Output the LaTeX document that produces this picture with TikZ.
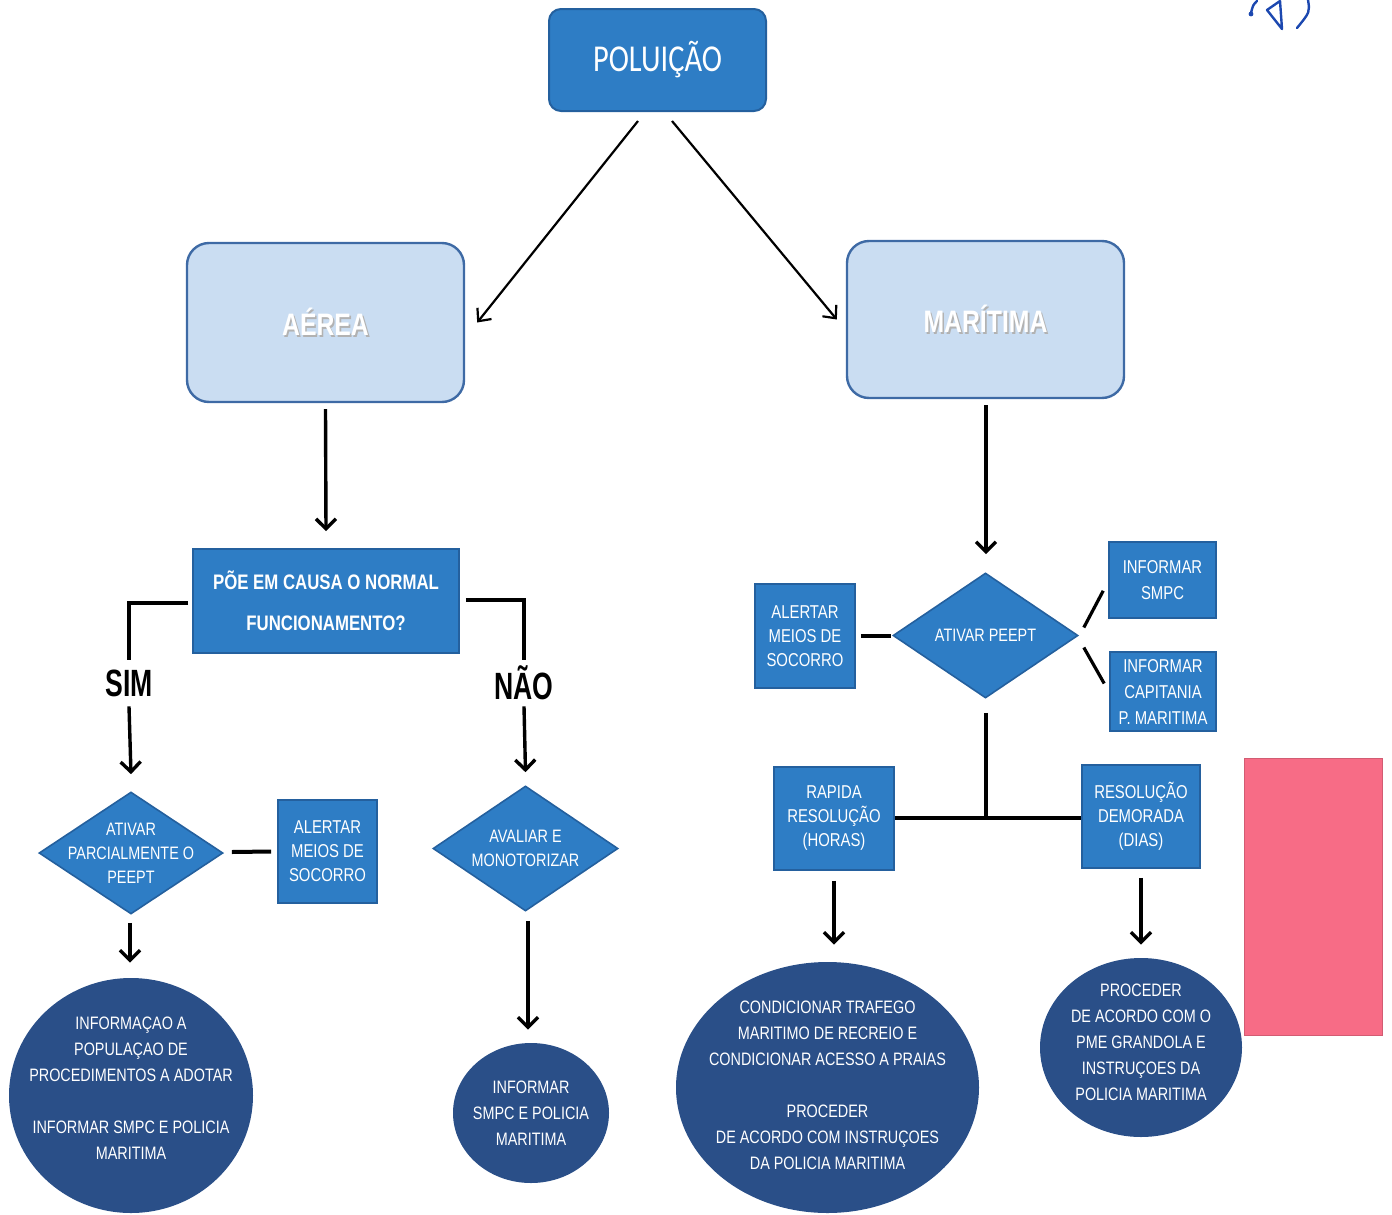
\documentclass[tikz,border=0pt]{standalone}
\usepackage{fontspec}
\setmainfont{Liberation Sans}
\newfontfamily\narrowfont[FakeStretch=0.8]{Liberation Sans}
\newfontfamily\slimfont[FakeStretch=0.7]{Liberation Sans}
\newfontfamily\titlefont[FakeStretch=0.8]{Carlito}
\usetikzlibrary{shapes.geometric,arrows.meta,calc}

\definecolor{midblue}{RGB}{46,125,197}
\definecolor{edgeblue}{RGB}{36,96,158}
\definecolor{paleblue}{RGB}{202,221,242}
\definecolor{paleedge}{RGB}{62,106,165}
\definecolor{navy}{RGB}{42,79,136}
\definecolor{rosepink}{RGB}{247,108,134}
\definecolor{inkblue}{RGB}{28,72,176}

% white lettering with a soft grey drop shadow
\newcommand\embossed[1]{\makebox[0pt][l]{\kern0.8pt\raisebox{-0.8pt}{\color{black!30}#1}}#1}

\begin{document}
\begin{tikzpicture}[x=0.5pt,y=-0.5pt,
  titlebox/.style={rectangle, rounded corners=6pt, fill=midblue, draw=edgeblue, line width=1pt,
    text=white, font=\titlefont\fontsize{19}{22}\selectfont},
  catbox/.style={rectangle, rounded corners=11pt, fill=paleblue, draw=paleedge, line width=1.2pt,
    text=white, font=\narrowfont\bfseries\fontsize{15.5}{18}\selectfont},
  qbox/.style={rectangle, fill=midblue, draw=edgeblue, line width=0.8pt, align=center,
    text=white, font=\narrowfont\bfseries\fontsize{10.5}{20.5}\selectfont},
  infobox/.style={rectangle, fill=midblue, draw=edgeblue, line width=0.8pt, align=center, inner sep=1pt,
    text=white, font=\narrowfont\fontsize{9.3}{12}\selectfont},
  decision/.style={diamond, fill=midblue, draw=edgeblue, line width=0.8pt, inner sep=0pt},
  outcome/.style={ellipse, fill=navy, draw=none, inner sep=0pt},
  intext/.style={align=center, text=white, font=\narrowfont\fontsize{9}{12}\selectfont},
  outtext/.style={align=center, text=white, font=\narrowfont\fontsize{9}{13}\selectfont},
  answer/.style={font=\slimfont\bfseries\fontsize{19}{22}\selectfont, inner sep=0pt, minimum height=23pt},
  conn/.style={line width=1.6pt},
  arr/.style={line width=1.7pt, -{Straight Barb[length=5pt,width=10pt]}},
  thinarr/.style={line width=1.1pt, -{Straight Barb[length=5pt,width=9pt]}}
]
\path[use as bounding box] (0,0) rectangle (1392,1215);

% handwritten mark in the corner
\begin{scope}[inkblue, line width=1.2pt, line cap=round, line join=round]
  \draw (1257,1) .. controls (1253,5) .. (1251,13);
  \fill (1251,14) circle (1.2pt);
  \draw (1280,1) -- (1267,10) -- (1282,29) -- (1280,1);
  \draw (1308,0) .. controls (1310,12) .. (1297,28);
\end{scope}

% top level
\node[titlebox, minimum width=108.5pt, minimum height=51pt] (pol) at (657.5,60) {POLUIÇÃO};

\node[catbox, minimum width=138.5pt, minimum height=79.5pt] (aer) at (325.5,322.5) {\embossed{AÉREA}};
\node[catbox, minimum width=138.5pt, minimum height=78.5pt] (mar) at (985.5,319.5) {\embossed{MARÍTIMA}};

\draw[thinarr] ($(pol.south)+(-19.5,9)$) -- ($(aer.east)+(12,0)$);
\draw[thinarr] ($(pol.south)+(14.5,9)$) -- ($(mar.west)+(-9,0)$);

% air branch
\node[qbox, minimum width=133pt, minimum height=52pt] (q) at (326,601)
  {PÕE EM CAUSA O NORMAL\\FUNCIONAMENTO?};
\draw[arr] ($(aer.south)+(0,6)$) -- ($(q.north)+(0,-17)$);

\node[answer] (sim) at (129,683) {SIM};
\node[answer] (nao) at (524,683) {NÃO};
\draw[conn] ($(q.west)+(-4,2)$) -| (sim.north);
\draw[conn] ($(q.east)+(6,-1)$) -| (nao.north);

\node[decision, minimum width=92pt, minimum height=61pt,
  label={[intext]center:ATIVAR\\PARCIALMENTE O\\PEEPT}] (dL) at (131,853) {};
\node[decision, minimum width=92.5pt, minimum height=62.5pt,
  label={[intext]center:AVALIAR E\\MONOTORIZAR}] (dM) at (525.5,848.5) {};
\draw[arr] (sim.south) -- ($(dL.north)+(0,-17)$);
\draw[arr] (nao.south) -- ($(dM.north)+(0,-13)$);

\node[infobox, minimum width=49.5pt, minimum height=51.5pt] (alL) at (327.5,851.5)
  {ALERTAR\\MEIOS DE\\SOCORRO};
\draw[line width=2pt] ($(dL.east)+(8,-1)$) -- ($(alL.west)+(-6,0)$);

\node[outcome, minimum width=122pt, minimum height=117.5pt,
  label={[outtext, yshift=3.5pt]center:INFORMAÇAO A\\POPULAÇAO DE\\PROCEDIMENTOS A ADOTAR\\[13pt]INFORMAR SMPC E POLICIA\\MARITIMA}]
  (cL) at (131,1095.5) {};
\draw[arr] ($(dL.south)+(-1,8)$) -- ($(cL.north)+(-1,-15)$);

\node[outcome, minimum width=78pt, minimum height=70pt,
  label={[outtext]center:INFORMAR\\SMPC E POLICIA\\MARITIMA}] (cM) at (531,1113) {};
\draw[arr] ($(dM.south)+(2.5,9)$) -- ($(cM.north)+(-3,-13)$);

% sea branch
\node[decision, minimum width=92.5pt, minimum height=62.5pt,
  label={[intext]center:ATIVAR PEEPT}] (dR) at (985.5,635.5) {};
\draw[arr] ($(mar.south)+(0.5,6)$) -- ($(dR.north)+(0.5,-18)$);

\node[infobox, minimum width=50pt, minimum height=52pt] (alR) at (805,636)
  {ALERTAR\\MEIOS DE\\SOCORRO};
\draw[line width=2pt] ($(alR.east)+(5,0)$) -- ($(dR.west)+(-1,0.5)$);

\node[infobox, minimum width=53.5pt, minimum height=38pt, font=\narrowfont\fontsize{9.3}{13}\selectfont]
  (inS) at (1162.5,580) {INFORMAR\\SMPC};
\node[infobox, minimum width=53pt, minimum height=39.5pt, font=\narrowfont\fontsize{9.3}{13}\selectfont]
  (inC) at (1163,691.5) {INFORMAR\\CAPITANIA\\P. MARITIMA};
\draw[line width=1.6pt] ($(dR.east)+(5,-8)$) -- ($(inS.south west)+(-5,-28)$);
\draw[line width=1.6pt] ($(dR.east)+(5,12)$) -- ($(inC.west)+(-5,-8)$);

\node[infobox, minimum width=60pt, minimum height=51.5pt] (rap) at (834,818.5)
  {RAPIDA\\RESOLUÇÃO\\(HORAS)};
\node[infobox, minimum width=59pt, minimum height=51.5pt] (dem) at (1141,816.5)
  {RESOLUÇÃO\\DEMORADA\\(DIAS)};
\coordinate (jn) at (986,818);
\draw[conn] ($(dR.south)+(0.5,14)$) -- (jn);
\draw[conn] (rap.east |- jn) -- (dem.west |- jn);

\node[outcome, minimum width=151.5pt, minimum height=125.5pt,
  label={[outtext, yshift=1pt]center:CONDICIONAR TRAFEGO\\MARITIMO DE RECREIO E\\CONDICIONAR ACESSO A PRAIAS\\[13pt]PROCEDER\\DE ACORDO COM INSTRUÇOES\\DA POLICIA MARITIMA}]
  (cR1) at (827.5,1087.5) {};
\node[outcome, minimum width=101pt, minimum height=89.5pt,
  label={[outtext, yshift=2.5pt]center:PROCEDER\\DE ACORDO COM O\\PME GRANDOLA E\\INSTRUÇOES DA\\POLICIA MARITIMA}]
  (cR2) at (1141,1047.5) {};
\draw[arr] ($(rap.south)+(0,10)$) -- ($(rap.south |- cR1.north)+(0,-17)$);
\draw[arr] ($(dem.south)+(0,9)$) -- ($(cR2.north)+(0,-13)$);

% pink sticky block at the right edge
\node[rectangle, fill=rosepink, draw=rosepink!85!black, line width=0.4pt, minimum width=69pt, minimum height=138.5pt,
  inner sep=0pt] (note) at (1313,896.5) {};
\end{tikzpicture}
\end{document}
